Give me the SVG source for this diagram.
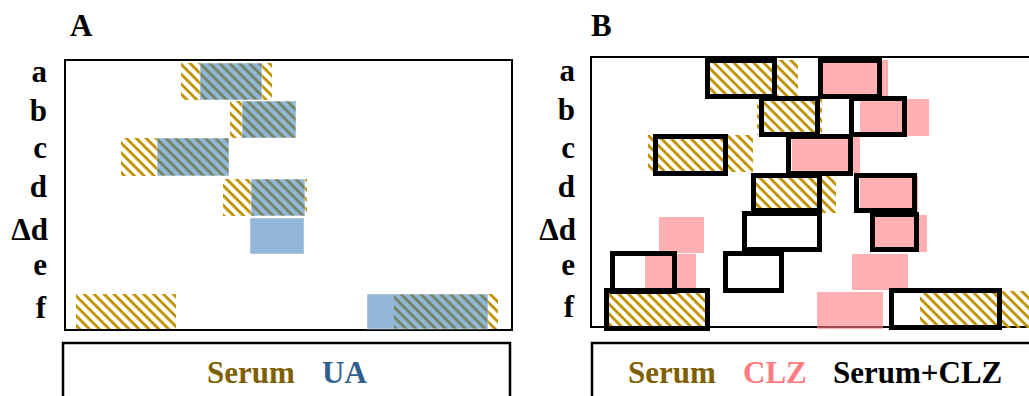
<svg xmlns="http://www.w3.org/2000/svg" width="1029" height="396" viewBox="0 0 1029 396">
<style>
.lbl{font-family:"Liberation Serif","Times New Roman",serif;font-weight:bold;font-size:31px;fill:#000}
.row{text-anchor:end}
.frame{fill:none;stroke:#000;stroke-width:2}
.leg{fill:#fff;stroke:#000;stroke-width:2.5}
.serum{fill:url(#hatch)}
.ua{fill:#2E75B6;fill-opacity:0.52;stroke:#fff;stroke-opacity:0.5;stroke-width:1}
.clz{fill:#FF7C80;fill-opacity:0.6}
.both{fill:none;stroke:#000;stroke-width:5}
</style>
<defs>
<pattern id="hatch" width="7" height="7" patternUnits="userSpaceOnUse" patternTransform="rotate(45)">
<rect width="7" height="2.8" fill="#BF9000"/>
</pattern>
</defs>
<rect width="1029" height="396" fill="#fff"/>

<g id="panelA">
<text class="lbl" x="70" y="36">A</text>
<g id="A-labels" class="lbl row">
<text x="47" y="82">a</text>
<text x="47" y="121">b</text>
<text x="47" y="158">c</text>
<text x="47" y="197">d</text>
<text x="48" y="240">Δd</text>
<text x="47" y="275">e</text>
<text x="46" y="318">f</text>
</g>
<rect class="frame" x="65" y="60" width="447" height="270"/>
<g id="A-serum">
<rect class="serum" x="181" y="63" width="91" height="37"/>
<rect class="serum" x="230" y="101" width="66" height="37"/>
<rect class="serum" x="121" y="138" width="108" height="38"/>
<rect class="serum" x="223" y="179" width="84" height="37"/>
<rect class="serum" x="76" y="294" width="100" height="35"/>
<rect class="serum" x="394" y="294" width="104" height="35"/>
</g>
<g id="A-ua">
<rect class="ua" x="200" y="63" width="62" height="37"/>
<rect class="ua" x="242" y="101" width="54" height="37"/>
<rect class="ua" x="157" y="138" width="72" height="38"/>
<rect class="ua" x="251" y="179" width="54" height="37"/>
<rect class="ua" x="250" y="218" width="54" height="36"/>
<rect class="ua" x="367" y="294" width="121" height="35"/>
</g>
<g id="A-legend">
<rect class="leg" x="63" y="343" width="447" height="70"/>
<text class="lbl" x="207" y="383" style="fill:#7F6000">Serum</text>
<text class="lbl" x="322" y="383" style="fill:#2F5F8F">UA</text>
</g>
</g>

<g id="panelB">
<text class="lbl" x="591" y="36">B</text>
<g id="B-labels" class="lbl row">
<text x="575" y="81">a</text>
<text x="575" y="120">b</text>
<text x="575" y="158">c</text>
<text x="575" y="197">d</text>
<text x="576" y="240">Δd</text>
<text x="575" y="275">e</text>
<text x="574" y="317">f</text>
</g>
<rect class="frame" x="591" y="57" width="460" height="270"/>
<g id="B-serum">
<rect class="serum" x="706" y="60" width="92" height="38"/>
<rect class="serum" x="757" y="99" width="65" height="36"/>
<rect class="serum" x="648" y="135" width="105" height="37"/>
<rect class="serum" x="751" y="176" width="85" height="37"/>
<rect class="serum" x="606" y="291" width="102" height="37"/>
<rect class="serum" x="920" y="291" width="115" height="37"/>
</g>
<g id="B-clz">
<rect class="clz" x="823" y="60" width="65" height="37"/>
<rect class="clz" x="860" y="99" width="69" height="37"/>
<rect class="clz" x="792" y="137" width="68" height="36"/>
<rect class="clz" x="860" y="176" width="58" height="37"/>
<rect class="clz" x="659" y="217" width="45" height="36"/>
<rect class="clz" x="874" y="215" width="53" height="37"/>
<rect class="clz" x="645" y="254" width="51" height="37"/>
<rect class="clz" x="852" y="254" width="56" height="36"/>
<rect class="clz" x="817" y="292" width="66" height="37"/>
</g>
<g id="B-both">
<rect class="both" x="707.5" y="60.5" width="67" height="36"/>
<rect class="both" x="820.5" y="60.5" width="59" height="36"/>
<rect class="both" x="761.5" y="98.5" width="56" height="36"/>
<rect class="both" x="851.5" y="98.5" width="53" height="36"/>
<rect class="both" x="655.5" y="136.5" width="70" height="37"/>
<rect class="both" x="788.5" y="136.5" width="62" height="37"/>
<rect class="both" x="753.5" y="175.5" width="66" height="35"/>
<rect class="both" x="856.5" y="175.5" width="58" height="35"/>
<rect class="both" x="744.5" y="213.5" width="75" height="36"/>
<rect class="both" x="872.5" y="214.5" width="44" height="35"/>
<rect class="both" x="612.5" y="253.5" width="62" height="38"/>
<rect class="both" x="725.5" y="253.5" width="56" height="37"/>
<rect class="both" x="606.5" y="290.5" width="101" height="38"/>
<rect class="both" x="891.5" y="290.5" width="108" height="37"/>
</g>
<g id="B-legend">
<rect class="leg" x="592" y="343" width="460" height="70"/>
<text class="lbl" x="628" y="383" style="fill:#7F6000">Serum</text>
<text class="lbl" x="743" y="383" style="fill:#FF7C80">CLZ</text>
<text class="lbl" x="833" y="383">Serum+CLZ</text>
</g>
</g>
</svg>
